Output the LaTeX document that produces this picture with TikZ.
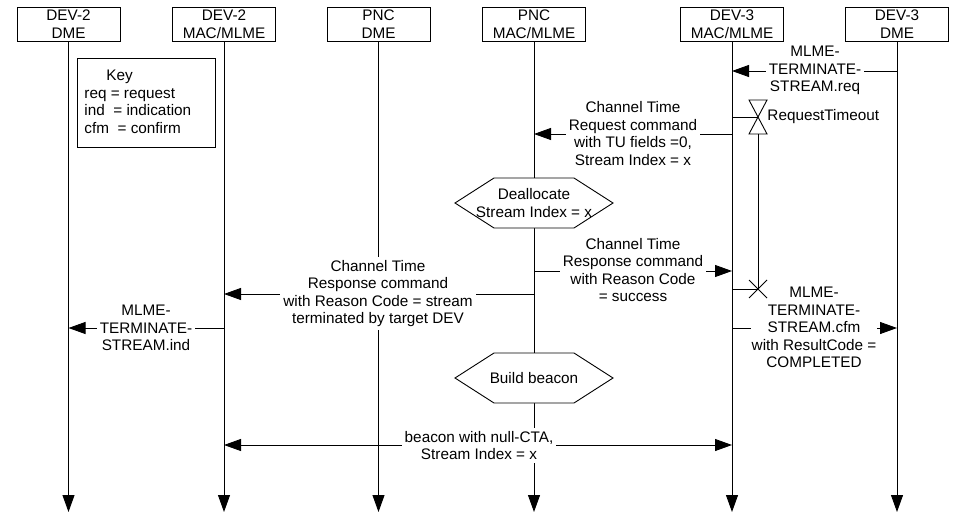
\documentclass[tikz,border=0pt]{standalone}
\usepackage{fontspec}
\setmainfont{Liberation Sans}
\usetikzlibrary{arrows.meta}
\begin{document}
\begin{tikzpicture}[x=1pt,y=-1pt,line width=0.9pt,
  every node/.style={font=\fontsize{15.3}{17.5}\selectfont},
  hdr/.style={draw, minimum width=103pt, minimum height=34pt, inner sep=0pt, align=center, fill=white},
  life/.style={-{Triangle[length=17pt,width=12pt]}},
  msg/.style={-{Triangle[length=17pt,width=12pt]}},
  bimsg/.style={{Triangle[length=17pt,width=12pt]}-{Triangle[length=17pt,width=12pt]}},
  lbl/.style={fill=white, align=center, inner sep=3pt},
  hexa/.style={draw, fill=white, line join=miter},
  txt/.style={align=center, inner sep=0pt}
]
\useasboundingbox (0,0) rectangle (955,514);
% headers
\node[hdr] (h1) at (68.5,24) {DEV-2\\DME};
\node[hdr] (h2) at (224,24) {DEV-2\\MAC/MLME};
\node[hdr] (h3) at (378.5,24) {PNC\\DME};
\node[hdr] (h4) at (534,24) {PNC\\MAC/MLME};
\node[hdr] (h5) at (732,24) {DEV-3\\MAC/MLME};
\node[hdr] (h6) at (897,24) {DEV-3\\DME};
% lifeline ends
\coordinate (e1) at (68.5,512);
\coordinate (e2) at (224,512);
\coordinate (e3) at (378.5,512);
\coordinate (e4) at (534,512);
\coordinate (e5) at (732,512);
\coordinate (e6) at (897,512);
\foreach \i in {1,...,6}{\draw[life] (h\i.south) -- (e\i);}
% key
\node[draw, minimum width=138pt, minimum height=89pt, inner sep=0pt] (key) at (146,102.5) {};
\node[anchor=west, align=left, inner sep=0pt] (keytext) at (84,102) {\hspace*{22pt}Key\\req = request\\ind\ \ = indication\\cfm\ \ = confirm};
% message 1
\coordinate (m1a) at (897,71);
\coordinate (m1b) at (732,71);
\draw[msg] (m1a) -- (m1b);
\node[lbl] (l1) at (815,70.5) {MLME-\\TERMINATE-\\STREAM.req};
% message 2
\coordinate (m2a) at (732,134);
\coordinate (m2b) at (534,134);
\draw[msg] (m2a) -- (m2b);
\node[lbl] (l2) at (633,133.5) {Channel Time\\Request command\\with TU fields =0,\\Stream Index = x};
% hexagon 1
\coordinate (x1) at (534,203);
\draw[hexa] ([xshift=-79pt]x1) -- ([xshift=-40pt,yshift=25pt]x1) -- ([xshift=40pt,yshift=25pt]x1) -- ([xshift=79pt]x1) -- ([xshift=40pt,yshift=-25pt]x1) -- ([xshift=-40pt,yshift=-25pt]x1) -- cycle;
\node[txt] (dealloc) at (x1) {Deallocate\\Stream Index = x};
% message 3
\coordinate (m3a) at (534,271);
\coordinate (m3b) at (732,271);
\draw[msg] (m3a) -- (m3b);
\node[lbl] (l3) at (633,270) {Channel Time\\Response command\\with Reason Code\\= success};
% message 4
\coordinate (m4a) at (534,294);
\coordinate (m4b) at (224,294);
\draw[msg] (m4a) -- (m4b);
\node[lbl] (l4) at (378,293.5) {Channel Time\\Response command\\with Reason Code = stream\\terminated by target DEV};
% message 5
\coordinate (m5a) at (224,328);
\coordinate (m5b) at (68.5,328);
\draw[msg] (m5a) -- (m5b);
\node[lbl] (l5) at (146,328) {MLME-\\TERMINATE-\\STREAM.ind};
% message 6
\coordinate (m6a) at (732,328);
\coordinate (m6b) at (897,328);
\draw[msg] (m6a) -- (m6b);
\node[lbl, inner xsep=1pt] (l6) at (814,327.5) {MLME-\\TERMINATE-\\STREAM.cfm\\with ResultCode =\\COMPLETED};
% timer
\coordinate (t0) at (732,117);
\coordinate (tm) at (758,117);
\coordinate (tt) at (758,134);
\coordinate (tx) at (758,289);
\coordinate (t1) at (732,289);
\draw (t0) -- (tm);
\draw (749,100) -- (767,100) -- (749,134) -- (767,134) -- cycle;
\draw (tt) -- (tx);
\draw (t1) -- (tx);
\draw (749,280) -- (767,298) (767,280) -- (749,298);
\node[anchor=west, inner sep=0pt] (tl) at (767,117) {RequestTimeout};
% hexagon 2
\coordinate (x2) at (534,378);
\draw[hexa] ([xshift=-79pt]x2) -- ([xshift=-40pt,yshift=25pt]x2) -- ([xshift=40pt,yshift=25pt]x2) -- ([xshift=79pt]x2) -- ([xshift=40pt,yshift=-25pt]x2) -- ([xshift=-40pt,yshift=-25pt]x2) -- cycle;
\node[txt] (build) at (x2) {Build beacon};
% message 7
\coordinate (m7a) at (224,445);
\coordinate (m7b) at (732,445);
\draw[bimsg] (m7a) -- (m7b);
\node[lbl] (l7) at (479,445.5) {beacon with null-CTA,\\Stream Index = x};
\end{tikzpicture}
\end{document}
